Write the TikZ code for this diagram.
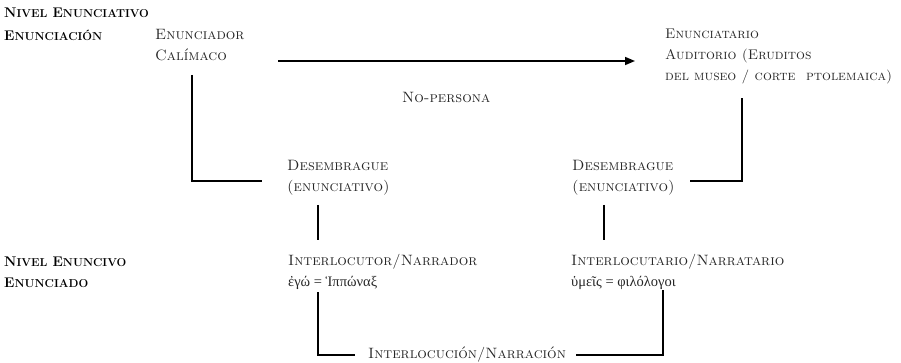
\documentclass[tikz,border=0pt]{standalone}
\usepackage{fontspec}
\newfontfamily\grk[Script=Greek]{Liberation Serif}
\usetikzlibrary{arrows.meta,calc}
\newcommand\bsc[2]{#1{\fontsize{11.5}{11.5}\selectfont #2}}
\begin{document}
\begin{tikzpicture}[x=1pt,y=-1pt,
  txt/.style={inner sep=0pt, anchor=west, align=left, text=black!85,
    font=\fontsize{15}{21}\selectfont\scshape},
  txs/.style={txt, font=\fontsize{14}{21}\selectfont\scshape},
  hd/.style={inner sep=0pt, anchor=west, text=black,
    font=\fontsize{14}{14}\selectfont\bfseries},
  ln/.style={line width=1.6pt, draw=black}]
\useasboundingbox (0,0) rectangle (901,363);
% headings
\node[hd] (h1) at (4,13) {\bsc{N}{IVEL} \bsc{E}{NUNCIATIVO}};
\node[hd] (h1b) at (4,35) {\bsc{E}{NUNCIACIÓN}};
\node[hd] (h2) at (4,262) {\bsc{N}{IVEL} \bsc{E}{NUNCIVO}};
\node[hd] (h2b) at (4,283) {\bsc{E}{NUNCIADO}};
% texts
\node[txt] (enr) at (155,45) {Enunciador\\Calímaco};
\node[txs] (enf) at (665,56.5) {Enunciatario\\Auditorio (Eruditos\\del museo / corte\ \ ptolemaica)};
\node[txt] (np) at (402,97) {No-persona};
\node[txt] (dl) at (287,178) {Desembrague\\(enunciativo)};
\node[txt] (dr) at (572,178) {Desembrague\\(enunciativo)};
\node[txt] (il) at (288,272) {Interlocutor/Narrador\\{\upshape\grk\fontsize{14.5}{21}\selectfont ἐγώ = Ἱππώναξ}};
\node[txt] (ir) at (571,272) {Interlocutario/Narratario\\{\upshape\grk\fontsize{14.5}{21}\selectfont ὑμεῖς = φιλόλογοι}};
\node[txt] (in) at (368,355) {Interlocución/Narración};
% connectors
\draw[ln,-{Triangle[length=10pt,width=8pt]}] ($(enr.west)+(123,16)$) -- ($(enf.west)+(-30,4.5)$);
\draw[ln] ($(enr.west)+(37,30)$) |- ($(dl.west)+(-25,3)$);
\draw[ln] ($(enf.west)+(77,42)$) |- ($(dr.west)+(118,3)$);
\draw[ln] ($(dl.west)+(31,27)$) -- ($(il.west)+(30,-32)$);
\draw[ln] ($(dr.west)+(32,27)$) -- ($(ir.west)+(33,-32)$);
\draw[ln] ($(il.west)+(30,20)$) |- ($(in.west)+(-13,0)$);
\draw[ln] ($(in.east)+(10,0)$) -| ($(ir.west)+(92,18)$);
\end{tikzpicture}
\end{document}
